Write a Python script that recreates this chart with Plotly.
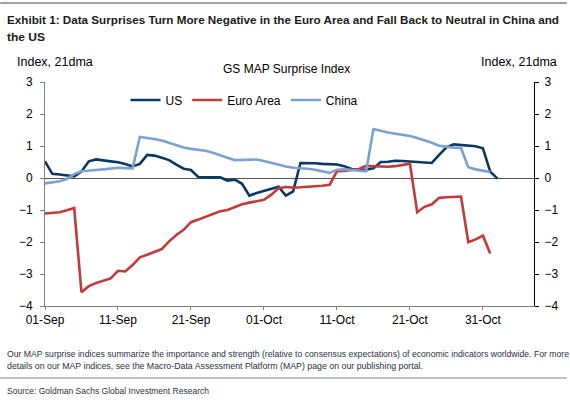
import plotly.graph_objects as go

dates = [
    "2022-09-01","2022-09-02","2022-09-03","2022-09-04","2022-09-05","2022-09-06","2022-09-07",
    "2022-09-08","2022-09-09","2022-09-10","2022-09-11","2022-09-12","2022-09-13","2022-09-14",
    "2022-09-15","2022-09-16","2022-09-17","2022-09-18","2022-09-19","2022-09-20","2022-09-21",
    "2022-09-22","2022-09-23","2022-09-24","2022-09-25","2022-09-26","2022-09-27","2022-09-28",
    "2022-09-29","2022-09-30","2022-10-01","2022-10-02","2022-10-03","2022-10-04","2022-10-05",
    "2022-10-06","2022-10-07","2022-10-08","2022-10-09","2022-10-10","2022-10-11","2022-10-12",
    "2022-10-13","2022-10-14","2022-10-15","2022-10-16","2022-10-17","2022-10-18","2022-10-19",
    "2022-10-20","2022-10-21","2022-10-22","2022-10-23","2022-10-24","2022-10-25","2022-10-26",
    "2022-10-27","2022-10-28","2022-10-29","2022-10-30","2022-10-31","2022-11-01","2022-11-02",
]

us = [0.52, 0.13, 0.11, 0.09, 0.05, 0.20, 0.52, 0.58, 0.54, 0.52,
      0.49, 0.44, 0.36, 0.44, 0.72, 0.70, 0.63, 0.56, 0.42, 0.29,
      0.25, 0.03, 0.02, 0.02, 0.02, -0.08, -0.05, -0.18, -0.55, -0.47,
      -0.40, -0.32, -0.27, -0.55, -0.42, 0.47, 0.47, 0.46, 0.44, 0.42,
      0.42, 0.37, 0.28, 0.26, 0.26, 0.30, 0.50, 0.51, 0.54, 0.53,
      0.52, 0.51, 0.49, 0.47, 0.72, 0.96, 1.05, 1.03, 1.01, 0.99,
      0.93, 0.20, -0.02]

euro = [-1.11, -1.10, -1.07, -1.01, -0.94, -3.57, -3.38, -3.28, -3.22, -3.14,
        -2.90, -2.92, -2.72, -2.48, -2.40, -2.32, -2.22, -1.98, -1.78, -1.62,
        -1.38, -1.30, -1.22, -1.14, -1.04, -1.00, -0.90, -0.82, -0.77, -0.72,
        -0.68, -0.52, -0.32, -0.28, -0.30, -0.29, -0.28, -0.26, -0.24, -0.21,
        0.21, 0.22, 0.24, 0.28, 0.38, 0.37, 0.36, 0.35, 0.37, 0.40,
        0.45, -1.07, -0.90, -0.82, -0.62, -0.60, -0.59, -0.58, -2.01, -1.92,
        -1.80, -2.36]

china = [-0.17, -0.14, -0.10, -0.03, 0.12, 0.21, 0.24, 0.25, 0.27, 0.29,
         0.32, 0.31, 0.30, 1.28, 1.26, 1.22, 1.17, 1.09, 1.02, 0.95,
         0.91, 0.88, 0.85, 0.79, 0.70, 0.63, 0.56, 0.56, 0.57, 0.58,
         0.53, 0.47, 0.42, 0.36, 0.32, 0.31, 0.29, 0.26, 0.22, 0.16,
         0.26, 0.27, 0.25, 0.23, 0.21, 1.53, 1.47, 1.42, 1.38, 1.35,
         1.31, 1.25, 1.18, 1.10, 1.01, 0.97, 0.95, 0.94, 0.34, 0.27,
         0.23, 0.19]

tick_dates = ["2022-09-01", "2022-09-11", "2022-09-21", "2022-10-01",
              "2022-10-11", "2022-10-21", "2022-10-31"]
tick_labels = ["01-Sep", "11-Sep", "21-Sep", "01-Oct", "11-Oct", "21-Oct", "31-Oct"]
y_ticks = [-4, -3, -2, -1, 0, 1, 2, 3]

C_US = "#0b3862"
C_EU = "#c23b38"
C_CN = "#7ba1d3"
FONT = "Liberation Sans, Arial, sans-serif"

fig = go.Figure()
fig.add_trace(go.Scatter(x=dates[:len(us)], y=us, name="US", mode="lines",
                         line=dict(color=C_US, width=2.6)))
fig.add_trace(go.Scatter(x=dates[:len(euro)], y=euro, name="Euro Area", mode="lines",
                         line=dict(color=C_EU, width=2.6)))
fig.add_trace(go.Scatter(x=dates[:len(china)], y=china, name="China", mode="lines",
                         line=dict(color=C_CN, width=2.6)))
# invisible trace to activate the right-hand axis
fig.add_trace(go.Scatter(x=dates[:len(us)], y=us, yaxis="y2", mode="lines",
                         line=dict(color="rgba(0,0,0,0)", width=0),
                         showlegend=False, hoverinfo="skip"))

L, R, T, B = 45, 33, 82, 99
W, H = 570, 405
pw, ph = W - L - R, H - T - B

def px(x):
    return (x - L) / pw

def py(y):
    return (H - B - y) / ph

fig.update_layout(
    width=W, height=H,
    margin=dict(l=L, r=R, t=T, b=B),
    paper_bgcolor="white", plot_bgcolor="white",
    font=dict(family=FONT, size=12, color="#000"),
    showlegend=True,
    legend=dict(orientation="h", x=px(126), y=py(100), xanchor="left", yanchor="middle",
                font=dict(family=FONT, size=12, color="#000"),
                bgcolor="rgba(0,0,0,0)", itemwidth=30, tracegroupgap=0),
    xaxis=dict(type="date", range=["2022-09-01", "2022-11-07"],
               tickvals=tick_dates, ticktext=tick_labels,
               showgrid=False, zeroline=False,
               showline=True, linecolor="#808080", linewidth=1,
               ticks="outside", ticklen=3, tickcolor="#808080",
               tickfont=dict(family=FONT, size=12, color="#000")),
    yaxis=dict(range=[-4, 3], tickvals=y_ticks, showgrid=False,
               zeroline=True, zerolinecolor="#555555", zerolinewidth=1,
               showline=True, linecolor="#808080", linewidth=1,
               ticks="outside", ticklen=4, tickcolor="#808080",
               ticklabelstandoff=5,
               tickfont=dict(family=FONT, size=12, color="#000")),
    yaxis2=dict(range=[-4, 3], tickvals=y_ticks, overlaying="y", side="right",
                showgrid=False, zeroline=False,
                showline=True, linecolor="#000", linewidth=1,
                ticks="outside", ticklen=4, tickcolor="#000",
                ticklabelstandoff=3,
                tickfont=dict(family=FONT, size=12, color="#000")),
)

ann = []
ann.append(dict(text="Exhibit 1: Data Surprises Turn More Negative in the Euro Area and Fall Back to Neutral in China and",
                x=px(5), y=py(20), xanchor="left", yanchor="middle", align="left",
                font=dict(family=FONT, size=11.8, color="#1a1a1a", weight="bold")))
ann.append(dict(text="the US", x=px(5), y=py(37), xanchor="left", yanchor="middle", align="left",
                font=dict(family=FONT, size=11.8, color="#1a1a1a", weight="bold")))
ann.append(dict(text="Index, 21dma", x=px(15), y=py(62), xanchor="left", yanchor="middle",
                font=dict(family=FONT, size=12.5, color="#000")))
ann.append(dict(text="Index, 21dma", x=px(562), y=py(62), xanchor="right", yanchor="middle",
                font=dict(family=FONT, size=12.5, color="#000")))
ann.append(dict(text="GS MAP Surprise Index", x=px(222), y=py(69), xanchor="left", yanchor="middle",
                align="left", font=dict(family=FONT, size=12, color="#000")))
ann.append(dict(text="Our MAP surprise indices summarize the importance and strength (relative to consensus expectations) of economic indicators worldwide. For more",
                x=px(5), y=py(354), xanchor="left", yanchor="middle", align="left",
                font=dict(family=FONT, size=8.6, color="#2a3140")))
ann.append(dict(text="details on our MAP indices, see the Macro-Data Assessment Platform (MAP) page on our publishing portal.",
                x=px(5), y=py(366), xanchor="left", yanchor="middle", align="left",
                font=dict(family=FONT, size=8.6, color="#2a3140")))
ann.append(dict(text="Source: Goldman Sachs Global Investment Research",
                x=px(5), y=py(391), xanchor="left", yanchor="middle", align="left",
                font=dict(family=FONT, size=8.6, color="#2a3140")))
for a in ann:
    a.update(xref="paper", yref="paper", showarrow=False)
fig.update_layout(annotations=ann)

fig.update_layout(shapes=[
    dict(type="line", xref="paper", yref="paper", x0=px(0), x1=px(570), y0=py(3), y1=py(3),
         line=dict(color="#808080", width=1.5)),
    dict(type="line", xref="paper", yref="paper", x0=px(0), x1=px(570), y0=py(378), y1=py(378),
         line=dict(color="#808080", width=1)),
])

# narrow-font emulation for the condensed texts of the original, and no page margin
post_js = """
document.body.style.margin='0';
var gd=document.getElementById('{plot_id}');
var fits={0:552,1:38,5:562,6:416,7:202};
Object.keys(fits).forEach(function(k){
  var t=gd.querySelector('.annotation[data-index="'+k+'"] text.annotation-text');
  if(t){t.setAttribute('textLength',fits[k]);t.setAttribute('lengthAdjust','spacingAndGlyphs');}
});
"""

fig.write_html("out.html", post_script=post_js, config={"displayModeBar": False})
